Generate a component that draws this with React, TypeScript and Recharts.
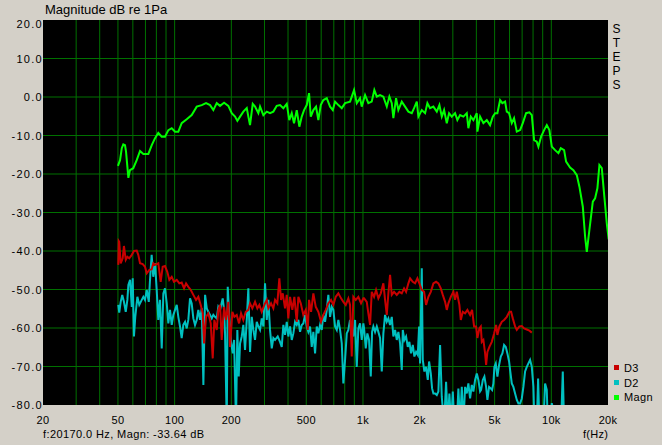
import React from 'react';
import { LineChart, Line, XAxis, YAxis, CartesianGrid } from 'recharts';

const FONT = '"Liberation Sans", Arial, sans-serif';

const xTickValues = [20, 50, 100, 200, 500, 1000, 2000, 5000, 10000, 20000];
const xTickLabels = ['20', '50', '100', '200', '500', '1k', '2k', '5k', '10k', '20k'];
const yTickValues = [20, 10, 0, -10, -20, -30, -40, -50, -60, -70, -80];
const gridFreqs = [30, 40, 50, 60, 70, 80, 90, 100, 200, 300, 400, 500, 600, 700, 800, 900, 1000, 2000, 3000, 4000, 5000, 6000, 7000, 8000, 9000, 10000];
const gridDb = [10, 0, -10, -20, -30, -40, -50, -60, -70];

const legendNames = ['D3', 'D2', 'Magn'];
const legendColors = ['#C80000', '#00C0C0', '#00FF00'];

const titleText = 'Magnitude dB re 1Pa';
const sideLetters = ['S', 'T', 'E', 'P', 'S'];
const cursorText = 'f:20170.0 Hz, Magn: -33.64 dB';
const xUnitText = 'f(Hz)';

const magnFreq = [50, 51.3, 52.4, 53.4, 54.5, 55.2, 56.1, 56.8, 57.9, 60.3, 62.9, 65.5, 68.2, 72.5, 75.6, 78.7, 81.9, 85.4, 88.9, 92.6, 96.5, 100.5, 104.6, 109, 115.9, 123.2, 131, 139.3, 146.8, 154.2, 160.5, 167.3, 174.2, 183, 192.8, 201, 209.3, 215.3, 222.5, 231.6, 241.5, 246.3, 251.3, 259.8, 267.3, 278.3, 284.1, 295.8, 308.3, 321, 334.3, 348.4, 362.8, 377.8, 393.8, 406.4, 418.6, 430.5, 445, 459.4, 473.1, 486.6, 502.9, 517.2, 528.1, 545.2, 563.4, 579.5, 596.8, 616.1, 642.3, 668.8, 691.3, 711, 740.3, 771.7, 803.4, 854, 896.8, 926.9, 965, 985, 1026, 1068, 1113, 1149, 1184, 1232, 1283, 1338, 1381, 1422, 1450, 1499, 1541, 1607, 1673, 1742, 1816, 1868, 1931, 1969, 2053, 2137, 2198, 2271, 2365, 2466, 2546, 2621, 2696, 2786, 2865, 2961, 3083, 3171, 3278, 3413, 3558, 3628, 3736, 3857, 4021, 4051, 4187, 4359, 4544, 4731, 4890, 5029, 5172, 5346, 5498, 5683, 5802, 5968, 6168, 6343, 6557, 6828, 7056, 7347, 7649, 7877, 8102, 8374, 8540, 8826, 9157, 9464, 9769, 10060, 10474, 10906, 11230, 11694, 11983, 12584, 13103, 13659, 14100, 14700, 15118, 15435, 15932, 16610, 17083, 17570, 18004, 18542, 19020, 19708, 20170];
const magnDb = [-17.9, -16.4, -13.3, -12.3, -12.5, -14.2, -18.1, -21.0, -19.0, -18.5, -16.4, -14.0, -14.8, -14.8, -12.5, -10.7, -9.3, -10.3, -10.3, -8.6, -8.1, -9.0, -9.0, -6.8, -5.8, -4.7, -2.5, -2.1, -1.6, -2.1, -3.4, -1.6, -2.3, -1.5, -2.3, -4.2, -5.1, -6.2, -5.1, -3.8, -2.9, -5.1, -7.3, -1.8, -2.5, -4.2, -2.5, -4.7, -3.8, -4.2, -3.8, -2.3, -2.1, -2.9, -1.8, -6.0, -4.2, -6.8, -3.4, -7.7, -5.1, -3.4, -2.1, 1.0, -5.1, -3.4, -2.5, -6.0, -2.1, -0.8, -0.3, -2.5, -3.4, -1.2, -2.1, -2.9, -1.6, -1.2, 1.8, -1.6, -0.3, -2.5, 0.5, -1.6, -1.2, 1.8, 0.1, 0.5, 0.1, -2.5, 0.1, -1.6, -5.5, -0.3, -3.4, -1.2, -2.5, -3.8, -4.2, -2.9, -1.2, -5.1, -3.4, -4.2, -1.6, -2.9, -2.5, -3.8, -2.1, -5.1, -3.4, -6.8, -4.2, -5.1, -4.2, -6.0, -4.7, -5.1, -4.2, -8.1, -5.1, -6.0, -4.2, -9.0, -5.1, -6.8, -6.0, -7.3, -5.1, -4.2, -4.2, -0.8, -1.6, -1.2, -3.8, -4.2, -6.8, -5.5, -9.0, -8.6, -6.8, -4.2, -4.0, -4.7, -11.2, -11.6, -12.9, -10.3, -8.6, -7.3, -8.6, -12.9, -13.8, -14.6, -13.3, -13.8, -16.8, -18.3, -19.0, -20.3, -23.3, -28.5, -36.3, -40.2, -34.5, -27.2, -26.3, -23.7, -17.7, -18.5, -24.6, -32.8, -37.0];

const d3Freq = [50.2, 50.5, 50.8, 51.7, 53.0, 53.8, 55.0, 56.1, 57.4, 59.2, 60.8, 62.9, 64.1, 65.5, 67.7, 69.6, 71.1, 73.4, 75.5, 77.0, 78.7, 81.9, 84.3, 86.4, 88.9, 91.4, 93.7, 96.5, 99.2, 102.6, 105.9, 109.0, 112.2, 115.0, 118.2, 121.7, 125.7, 129.9, 133.6, 137.6, 141.0, 143.3, 146.8, 151.0, 155.5, 159.3, 162.5, 167.3, 170.6, 174.2, 177.8, 183.0, 187.5, 192.8, 196.9, 202.5, 207.5, 213.6, 219.8, 225.2, 231.6, 238.5, 246.2, 251.4, 258.5, 267.2, 274.9, 281.7, 290.1, 299.5, 308.4, 314.5, 325.0, 334.3, 341.3, 351.0, 359.7, 367.3, 375.0, 385.7, 393.8, 401.5, 410.0, 421.7, 432.2, 445.0, 453.8, 467.3, 482.4, 496.8, 509.1, 517.2, 530.0, 545.2, 561.4, 579.5, 598.9, 616.0, 634.4, 654.9, 676.9, 696.2, 716.9, 740.0, 764.9, 786.7, 810.1, 836.3, 853.8, 871.8, 889.1, 915.5, 945.1, 976.8, 1004.7, 1013.4, 1047.4, 1068.1, 1090.6, 1113.5, 1145.2, 1173.6, 1207.0, 1243.0, 1283.2, 1310.2, 1337.7, 1364.1, 1392.8, 1422.0, 1462.6, 1511.7, 1560.6, 1607.1, 1653.0, 1693.9, 1742.2, 1778.8, 1838.5, 1890.9, 1944.9, 1993.0, 2052.4, 2110.9, 2163.2, 2224.9, 2291.2, 2365.3, 2444.7, 2514.4, 2589.3, 2653.4, 2729.1, 2786.4, 2841.5, 2926.1, 3020.6, 3084.1, 3148.9, 3250.6, 3306.7, 3388.5, 3485.2, 3584.6, 3704.9, 3796.6, 3890.6, 3986.9, 4051, 4151, 4223, 4275, 4359, 4451, 4506, 4578, 4691, 4831, 4969, 5093, 5173, 5301, 5459, 5615, 5804, 5991, 6117, 6245, 6423, 6558, 6769, 6971, 7170, 7411, 7650, 7878];
const d3Db = [-43.6, -37.4, -37.6, -43.2, -41.9, -38.7, -42.3, -41.5, -41.9, -41.0, -40.0, -39.9, -41.0, -43.2, -43.4, -44.1, -45.8, -44.9, -44.8, -43.2, -43.6, -43.2, -48.0, -44.1, -43.9, -45.4, -47.5, -46.7, -48.0, -47.5, -48.4, -48.2, -49.7, -48.4, -49.3, -50.1, -51.4, -52.7, -51.9, -54.0, -56.2, -64.0, -57.1, -56.2, -58.8, -67.9, -57.9, -60.5, -55.3, -54.0, -63.1, -54.5, -57.9, -53.2, -64.9, -55.8, -57.1, -56.6, -58.8, -56.2, -57.9, -55.8, -55.3, -53.6, -54.9, -53.2, -54.9, -54.0, -55.8, -54.0, -52.7, -54.9, -53.6, -54.9, -52.7, -53.6, -47.1, -52.7, -51.0, -54.9, -51.4, -57.5, -51.9, -55.3, -51.9, -58.4, -51.9, -53.6, -56.6, -55.3, -60.5, -52.7, -55.8, -51.0, -54.5, -55.8, -58.4, -56.6, -55.3, -53.6, -52.7, -54.0, -51.9, -51.0, -52.3, -53.2, -54.0, -52.3, -54.0, -67.4, -51.9, -52.7, -51.9, -53.6, -52.3, -52.3, -53.2, -56.2, -59.2, -50.6, -51.9, -50.1, -52.3, -51.0, -48.4, -52.7, -56.6, -51.0, -46.2, -51.4, -50.6, -51.4, -50.6, -51.0, -49.7, -50.6, -48.4, -47.1, -48.0, -48.4, -47.1, -48.4, -50.1, -50.6, -54.0, -51.9, -50.6, -48.4, -48.0, -48.4, -49.7, -51.4, -53.2, -55.3, -53.6, -51.9, -50.6, -52.7, -50.6, -54.0, -57.9, -55.8, -56.2, -55.3, -56.6, -55.3, -59.6, -59.6, -62.6, -60.1, -59.6, -63.6, -63.1, -66.6, -69.6, -66.2, -64.9, -63.6, -61.4, -59.2, -61.8, -59.6, -58.4, -57.9, -57.1, -55.8, -55.8, -57.5, -59.6, -60.5, -59.6, -59.5, -60.1, -60.4, -60.7, -61.2];

const d2Freq = [50.2, 50.8, 51.7, 52.7, 53.8, 55.0, 56.1, 56.8, 58.0, 59.2, 59.9, 60.8, 61.8, 63.4, 64.9, 66.9, 68.2, 69.6, 71.1, 72.9, 74.0, 75.5, 77.0, 78.7, 80.3, 81.9, 83.6, 85.4, 87.1, 88.9, 90.8, 92.6, 94.5, 96.5, 98.4, 100.5, 102.6, 104.6, 106.8, 109.0, 111.2, 113.6, 115.9, 118.2, 120.7, 123.2, 125.7, 128.3, 131.0, 133.6, 136.4, 139.3, 142.1, 145.1, 148.1, 151.0, 154.2, 157.4, 160.5, 163.9, 167.3, 170.6, 174.2, 180.0, 183.0, 185.2, 189.1, 191.4, 195.2, 198.6, 203.5, 206.8, 211.8, 215.2, 218.9, 222.5, 227.1, 231.6, 236.5, 241.5, 246.2, 251.4, 256.7, 261.8, 267.2, 272.9, 278.3, 284.1, 290.1, 295.9, 302.0, 308.4, 314.5, 321.0, 327.8, 334.3, 341.3, 352.7, 362.8, 370.4, 377.8, 385.7, 393.8, 401.5, 410.0, 418.6, 426.9, 435.9, 445.0, 453.8, 463.3, 473.1, 482.4, 492.5, 502.9, 512.8, 523.6, 534.6, 545.2, 556.7, 568.4, 579.5, 591.6, 604.0, 616.0, 629.0, 642.3, 654.9, 668.8, 682.8, 696.2, 711.0, 725.9, 740.0, 755.8, 771.7, 786.7, 803.4, 820.3, 836.3, 853.8, 871.8, 889.1, 907.8, 926.8, 945.1, 964.9, 985.2, 1004.7, 1013.4, 1034.6, 1055.0, 1077.3, 1100.0, 1117.6, 1135.5, 1159.4, 1184, 1207.0, 1232.5, 1258.4, 1283.2, 1310.2, 1337.7, 1364.1, 1392.8, 1422.0, 1450.2, 1480.7, 1511.7, 1541.6, 1574.0, 1607.1, 1627.0, 1659.1, 1693.9, 1729.4, 1763.6, 1799.8, 1838.5, 1874.8, 1914.2, 1954.4, 1985.8, 2010.2, 2052.4, 2077.3, 2118.4, 2163.2, 2208.6, 2244.0, 2291.2, 2328.0, 2365.3, 2414.9, 2465.6, 2514.4, 2567.2, 2621.1, 2695.8, 2762.6, 2820.6, 2876.3, 2936.7, 2998.4, 3057.6, 3148.9, 3210.9, 3278.4, 3347.3, 3413.4, 3485.2, 3557.9, 3628.2, 3704.9, 3782.7, 3857.3, 3938.3, 4021, 4101, 4187, 4238, 4327, 4413, 4506, 4578, 4673, 4771, 4848, 4925, 4986, 5072, 5173, 5281, 5392, 5498, 5615, 5731, 5845, 5968, 6042, 6168, 6290, 6423, 6558, 6687, 6828, 6971, 7109, 7258, 7411, 7557, 7716, 7878, 8035, 8133, 8375, 8510, 8646, 8828, 9080, 9268, 9462, 9579, 9853, 10060, 10600, 11270, 11507, 11692];
const d2Db = [-54.0, -56.0, -53.2, -51.4, -53.2, -55.8, -52.7, -48.8, -47.5, -54.5, -47.1, -62.2, -57.1, -51.9, -54.0, -52.7, -51.9, -52.7, -50.1, -53.2, -47.5, -41.0, -46.7, -43.2, -50.1, -57.9, -52.7, -65.3, -51.0, -49.7, -53.6, -58.8, -55.3, -59.2, -56.6, -55.3, -54.0, -57.1, -59.6, -62.6, -59.2, -58.4, -60.1, -57.9, -52.3, -53.6, -57.5, -59.2, -57.9, -55.3, -57.9, -54.9, -74.8, -51.4, -54.9, -55.8, -56.6, -57.5, -56.6, -57.1, -57.5, -54.5, -55.3, -52.3, -55.3, -61.4, -85, -49.3, -57.5, -63.1, -66.6, -63.1, -85, -60.5, -72.6, -64.0, -62.2, -59.2, -65.7, -57.9, -49.7, -66.2, -57.1, -60.5, -63.1, -58.4, -59.6, -60.5, -57.5, -59.6, -48.4, -57.9, -52.7, -60.5, -65.3, -62.6, -63.1, -62.2, -63.6, -64.9, -59.2, -61.8, -58.4, -62.2, -59.6, -63.1, -61.4, -58.4, -59.2, -57.9, -61.0, -59.2, -58.8, -56.6, -59.6, -61.0, -59.6, -64.9, -61.0, -66.6, -59.6, -61.4, -59.2, -60.5, -56.6, -58.4, -55.3, -51.4, -57.1, -54.5, -55.3, -59.6, -60.5, -57.9, -60.5, -64.0, -74.4, -68.3, -61.4, -60.5, -57.9, -60.5, -62.2, -57.9, -70.1, -60.1, -58.8, -63.1, -58.8, -60.1, -65.3, -61.4, -63.1, -72.6, -61.0, -59.6, -61.0, -59.6, -61.0, -62.6, -71.3, -61.4, -56.6, -58.4, -57.5, -59.2, -57.1, -62.2, -60.5, -63.1, -61.0, -64.0, -70.9, -60.5, -63.1, -62.2, -64.9, -63.6, -66.6, -64.4, -67.4, -66.2, -67.0, -59.6, -69.2, -44.5, -68.3, -71.3, -70.1, -73.5, -68.7, -71.8, -75.7, -77.0, -77.0, -77.4, -76.5, -64.4, -77.9, -85, -74.0, -85, -77.0, -85, -76.5, -85, -85, -75.7, -85, -75.3, -85, -75.3, -77.0, -74.4, -78.3, -74.8, -76.5, -73.5, -71.8, -73.5, -76.5, -76.1, -73.5, -72.6, -75.3, -78.7, -75.3, -75.7, -76.1, -74.4, -70.1, -69.2, -72.6, -69.6, -67.4, -66.6, -64.4, -64.9, -66.6, -68.7, -70.9, -74.4, -75.3, -77.0, -78.7, -79.6, -79.6, -78.3, -75.3, -71.3, -70.1, -69.2, -68.3, -70.1, -75.3, -85, -85, -73.1, -85, -85, -85, -74.4, -76.1, -85, -85, -79.5, -85, -85, -71.3, -85];

const toData = (fs: number[], vs: number[]) => fs.map((f, i) => ({ f, v: vs[i] }));
const magnData = toData(magnFreq, magnDb);
const d3Data = toData(d3Freq, d3Db);
const d2Data = toData(d2Freq, d2Db);

const XTick = (props: any) => {
  const { x, y, payload } = props;
  const idx = xTickValues.indexOf(payload.value);
  return (
    <text x={x} y={y + 19} textAnchor="middle" fontSize={11} letterSpacing={0.3} fill="#000" fontFamily={FONT}>
      {xTickLabels[idx]}
    </text>
  );
};

const YTick = (props: any) => {
  const { x, y, payload } = props;
  const v = payload.value as number;
  return (
    <text x={x} y={y + (v === 20 ? 8 : 4)} textAnchor="end" fontSize={11} letterSpacing={1.3} fill="#000" fontFamily={FONT}>
      {v.toFixed(1)}
    </text>
  );
};

export default function App() {
  return (
    <div style={{ position: 'absolute', left: 0, top: 0, width: 662, height: 445, background: '#D4D0C8', overflow: 'hidden' }}>
      <LineChart width={662} height={445} margin={{ top: 20, right: 54, bottom: 0, left: 0 }}>
        <CartesianGrid
          fill="#000"
          fillOpacity={1}
          stroke="#007000"
          strokeWidth={1}
          verticalValues={gridFreqs}
          horizontalValues={gridDb}
          syncWithTicks
        />
        <XAxis
          dataKey="f"
          type="number"
          scale="log"
          domain={[20, 20000]}
          allowDataOverflow
          ticks={xTickValues}
          interval={0}
          height={40}
          axisLine={false}
          tickLine={false}
          tickSize={0}
          tickMargin={0}
          tick={XTick}
        />
        <YAxis
          type="number"
          domain={[-80, 20]}
          allowDataOverflow
          ticks={yTickValues}
          interval={0}
          width={43}
          axisLine={false}
          tickLine={false}
          tickSize={0}
          tickMargin={0}
          tick={YTick}
        />
        <Line data={magnData} dataKey="v" stroke={legendColors[2]} strokeWidth={2} dot={false} isAnimationActive={false} type="linear" />
        <Line data={d2Data} dataKey="v" stroke={legendColors[1]} strokeWidth={2} dot={false} isAnimationActive={false} type="linear" />
        <Line data={d3Data} dataKey="v" stroke={legendColors[0]} strokeWidth={2} dot={false} isAnimationActive={false} type="linear" />
      </LineChart>
      <svg width={662} height={445} style={{ position: 'absolute', left: 0, top: 0, pointerEvents: 'none' }} fontFamily={FONT}>
        <text x={45} y={14} fontSize={13} fill="#000">{titleText}</text>
        {sideLetters.map((c, i) => (
          <text key={i} x={616.5} y={33 + i * 14} fontSize={12} textAnchor="middle" fill="#000">{c}</text>
        ))}
        {legendNames.map((n, i) => (
          <g key={n}>
            <rect x={614} y={365 + i * 15} width={5} height={5} fill={legendColors[i]} />
            <text x={624} y={372 + i * 14.5} fontSize={11} letterSpacing={0.4} fill="#000">{n}</text>
          </g>
        ))}
        <text x={43} y={438} fontSize={11} letterSpacing={0.4} fill="#000">{cursorText}</text>
        <text x={583} y={438} fontSize={11} letterSpacing={0.3} fill="#000">{xUnitText}</text>
      </svg>
    </div>
  );
}
